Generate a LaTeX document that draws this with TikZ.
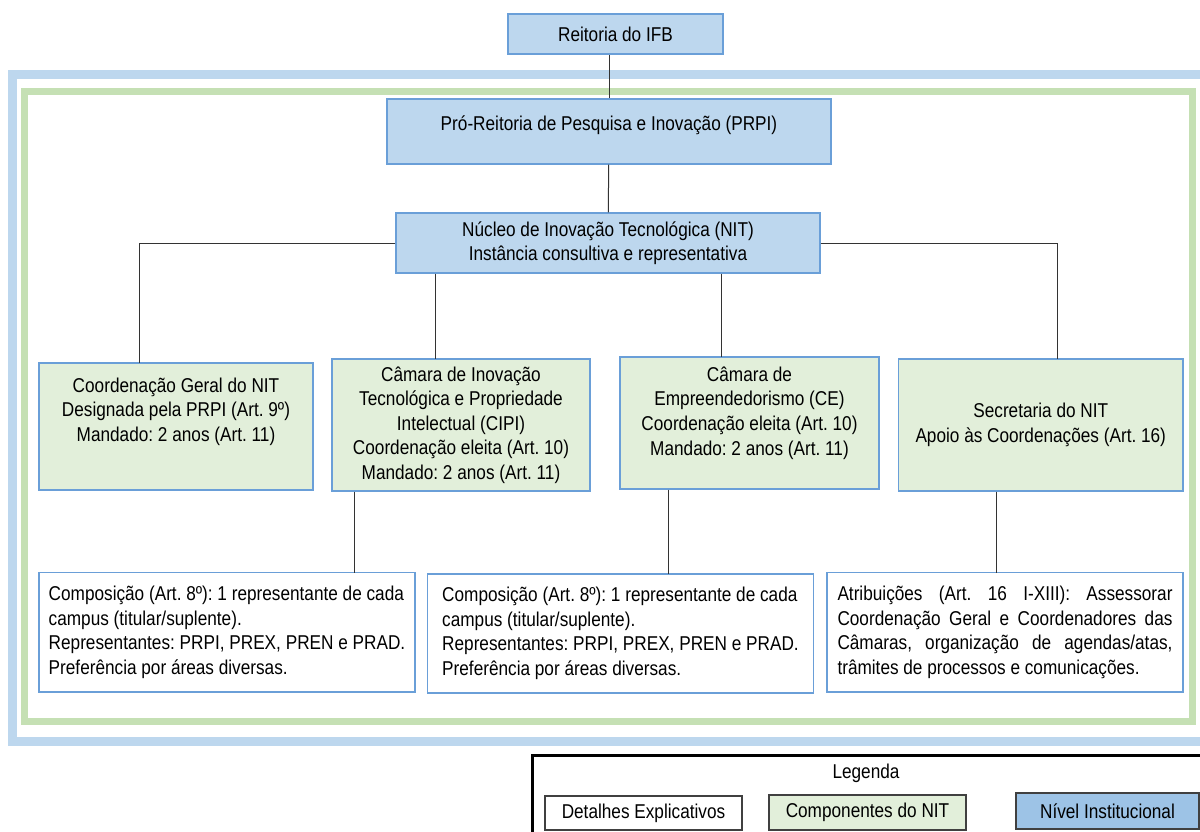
\documentclass[tikz,border=0pt]{standalone}
\usepackage{fontspec}
\setmainfont{Liberation Sans}[FakeStretch=0.86]
\definecolor{instfill}{HTML}{BDD7EE}
\definecolor{instline}{HTML}{6A9FD8}
\definecolor{nitfill}{HTML}{E2EFDA}
\definecolor{greenframe}{HTML}{C5E0B4}
\definecolor{legblue}{HTML}{9DC3E6}
\begin{document}
\begin{tikzpicture}[x=0.75pt,y=-0.75pt,
  font=\fontsize{15}{18.4}\selectfont\frenchspacing,
  box/.style={draw=instline,line width=1.1pt,inner sep=0pt,align=center},
  instbox/.style={box,fill=instfill},
  nitbox/.style={box,fill=nitfill},
  detbox/.style={box,fill=white,align=left},
  legbox/.style={draw=black!75,line width=0.8pt,inner sep=0pt},
  link/.style={draw=black!80,line width=0.75pt}]
\useasboundingbox (0,0) rectangle (1200,832);
\clip (0,0) rectangle (1200,832);
\draw[instfill,line width=6.75pt] (12,74.5) rectangle (1215,741.5);
\draw[greenframe,line width=5.25pt] (24.5,91.5) rectangle (1192,721.5);

\node[instbox,minimum width=161.25pt,minimum height=30pt] (reit) at (615.5,34) {Reitoria do IFB};
\node[instbox,minimum width=333pt,minimum height=48.75pt] (prpi) at (609,131.5) {};
\node (prpiT) at (609,125) {Pró-Reitoria de Pesquisa e Inovação (PRPI)};
\node[instbox,minimum width=318pt,minimum height=45pt] (nit) at (608,243) {Núcleo de Inovação Tecnológica (NIT)\\Instância consultiva e representativa};

\node[nitbox,minimum width=205.5pt,minimum height=95.25pt] (cg) at (176,426.5) {};
\node[align=center] (cgT) at (176,411.5) {Coordenação Geral do NIT\\Designada pela PRPI (Art. 9º)\\Mandado: 2 anos (Art. 11)};
\node[nitbox,minimum width=193.5pt,minimum height=99pt] (cipi) at (461,425) {Câmara de Inovação\\Tecnológica e Propriedade\\Intelectual (CIPI)\\Coordenação eleita (Art. 10)\\Mandado: 2 anos (Art. 11)};
\node[nitbox,minimum width=194.25pt,minimum height=99pt] (ce) at (749.5,423) {};
\node[align=center] (ceT) at (749.5,413) {Câmara de\\Empreendedorismo (CE)\\Coordenação eleita (Art. 10)\\Mandado: 2 anos (Art. 11)};
\node[nitbox,minimum width=213.4pt,minimum height=99pt] (sec) at (1040.75,425) {Secretaria do NIT\\Apoio às Coordenações (Art. 16)};

\node[detbox,minimum width=282pt,minimum height=89.6pt] (dA) at (227,632.25) {Composição (Art. 8º): 1 representante de cada\\campus (titular/suplente).\\Representantes: PRPI, PREX, PREN e PRAD.\\Preferência por áreas diversas.};
\node[detbox,minimum width=289.5pt,minimum height=89.25pt] (dB) at (620.5,633.5) {Composição (Art. 8º): 1 representante de cada\\campus (titular/suplente).\\Representantes: PRPI, PREX, PREN e PRAD.\\Preferência por áreas diversas.};
\node[detbox,align=justify,text width=251.25pt,minimum width=267pt,minimum height=89.6pt] (dC) at (1005,632.25) {\hyphenpenalty=10000 Atribuições (Art. 16 I-XIII): Assessorar\linebreak Coordenação Geral e Coordenadores das\linebreak Câmaras, organização de agendas/atas,\linebreak trâmites de processos e comunicações.};

\coordinate (cgIn) at (139,363);
\coordinate (cipiIn) at (435,359);
\coordinate (ceIn) at (721,357);
\coordinate (secIn) at (1057,359);
\coordinate (dAIn) at (354,572.5);
\coordinate (dBIn) at (668,574);
\coordinate (dCIn) at (996,572.5);

\draw[link] (prpi.north) -- (prpi.north |- reit.south);
\draw[link] (prpi) -- (nit);
\draw[link] (nit.west) -| (cgIn);
\draw[link] (nit.south -| cipiIn) -- (cipiIn);
\draw[link] (nit.south -| ceIn) -- (ceIn);
\draw[link] (nit.east) -| (secIn);
\draw[link] (cipi.south -| dAIn) -- (dAIn);
\draw[link] (ce.south -| dBIn) -- (dBIn);
\draw[link] (sec.south -| dCIn) -- (dCIn);

\draw[black,line width=2.25pt] (532,755.5) rectangle (1230,870);
\node (legT) at (866,773) {Legenda};
\node[legbox,fill=white,minimum width=147.75pt,minimum height=25.5pt] (legDet) at (643.5,813) {Detalhes Explicativos};
\node[legbox,fill=nitfill,minimum width=147.75pt,minimum height=26.25pt] (legComp) at (867.5,812.5) {Componentes do NIT};
\node[legbox,fill=legblue,minimum width=137.25pt,minimum height=27pt] (legInst) at (1107.5,811) {Nível Institucional};
\end{tikzpicture}
\end{document}
